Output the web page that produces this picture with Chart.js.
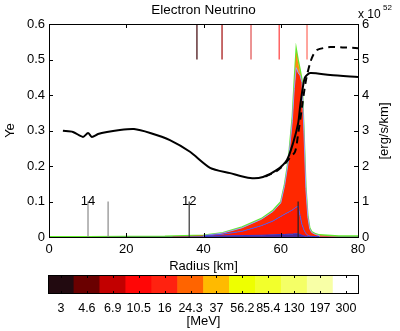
<!DOCTYPE html>
<html>
<head>
<meta charset="utf-8">
<script src="https://cdn.jsdelivr.net/npm/chart.js@4/dist/chart.umd.min.js"></script>
<style>
  body { margin: 0; background: #fff; }
  #wrap { position: relative; width: 400px; height: 331px; }
  canvas { position: absolute; left: 0; }
  #main { top: 0; }
  #bar { top: 272px; }
</style>
</head>
<body>
<div id="wrap">
  <canvas id="main" width="400" height="275"></canvas>
  <canvas id="bar" width="400" height="59"></canvas>
</div>
<script>
// Ye profile (solid)
const yeR = [3.6, 6.2, 8.8, 10.1, 11.1, 12.7, 15, 17.9, 22, 26.2, 31.3, 36.5, 41.7, 46.9, 52.1, 55.4, 59, 61.6, 63.2, 64.5, 65, 65.7, 66.3, 67.6, 72.8, 80];
const yeVal = [0.299, 0.296, 0.282, 0.293, 0.282, 0.29, 0.296, 0.301, 0.304, 0.293, 0.273, 0.24, 0.195, 0.18, 0.166, 0.169, 0.189, 0.217, 0.265, 0.32, 0.366, 0.42, 0.45, 0.462, 0.456, 0.451];

// Ye profile (dashed)
const ye2R = [56, 59, 61, 62.5, 63.7, 64.5, 65.5, 66.5, 67.6, 68.5, 69.4, 72.8, 76, 80];
const ye2Val = [0.17, 0.186, 0.205, 0.225, 0.24, 0.29, 0.366, 0.44, 0.49, 0.515, 0.527, 0.535, 0.534, 0.532];

// luminosity spectrum layers [1e52 erg/s/km], stacked
const specR    = [0, 10, 20, 30, 40, 45, 50, 55, 58, 60, 61, 62, 63, 63.5, 64, 64.5, 65, 65.5, 66, 66.5, 67, 67.5, 68, 69, 70, 75, 80];
const specLow  = [0, 0, 0.005, 0.01, 0.02, 0.03, 0.04, 0.05, 0.06, 0.07, 0.07, 0.08, 0.08, 0.09, 0.09, 0.09, 0.07, 0.05, 0.03, 0.02, 0.01, 0.01, 0.01, 0.01, 0.01, 0.01, 0.01];
const specMid  = [0, 0, 0, 0, 0.01, 0.05, 0.12, 0.27, 0.39, 0.51, 0.57, 0.62, 0.68, 0.71, 0.75, 0.78, 0.53, 0.3, 0.17, 0.08, 0.04, 0.02, 0.01, 0, 0, 0, 0];
const specHigh = [0, 0, 0, 0, 0.01, 0.03, 0.1, 0.18, 0.27, 0.38, 0.81, 1.45, 2.52, 3.38, 3.93, 3.76, 3.95, 4.0, 2.76, 1.27, 0.52, 0.2, 0.11, 0.06, 0.03, 0, 0];
const specTip  = [0, 0, 0, 0, 0, 0, 0, 0, 0, 0, 0, 0, 0.05, 0.15, 0.45, 0.28, 0.1, 0, 0, 0, 0, 0, 0, 0, 0, 0, 0];
const specEdge = [0.01, 0.01, 0.01, 0.01, 0.01, 0.01, 0.02, 0.02, 0.03, 0.03, 0.04, 0.05, 0.07, 0.07, 0.08, 0.08, 0.07, 0.07, 0.05, 0.05, 0.04, 0.03, 0.02, 0.02, 0.02, 0.02, 0.02];

// marker lines near the top (Ye 0.5 - 0.6)
const topR = [38.3, 44.8, 52.3, 59.6, 66.8];
const topClr = ['#4a1418', '#a81c1c', '#e25a5a', '#ff4a4a', '#ff7468'];

// marker lines at the bottom (height in 1e52)
const markR = [10.1, 15.3, 36.3, 64.5];
const markTop = [1, 1, 1, 1];
const markLbl = ['14', '', '12', ''];
const markClr = ['#8a8a8a', '#8a8a8a', '#333333', '#222222'];

// colour bar
const mev = ['3', '4.6', '6.9', '10.5', '16', '24.3', '37', '56.2', '85.4', '130', '197', '300'];
const cellH = [1, 1, 1, 1, 1, 1, 1, 1, 1, 1, 1, 1];
const mevClr = ['#220a10', '#6a0000', '#c20000', '#ff0606', '#ff2210', '#ff6400', '#ffba00', '#eeff00', '#f2ff2c', '#f4ff66', '#f8ffa6', '#ffffff'];

const FONT = "'Liberation Sans', Arial, sans-serif";
Chart.defaults.font.family = FONT;
Chart.defaults.color = '#000';

const pts = (xs, ys) => xs.map((x, i) => ({ x: x, y: ys[i] }));

const layerStyle = [
  { data: specLow,  bg: '#4a2a96', bd: '#3434c8' },
  { data: specMid,  bg: '#ff1a00', bd: '#4a58f0' },
  { data: specHigh, bg: '#ff2800', bd: '#9a9cff' },
  { data: specTip,  bg: '#ff8c10', bd: 'rgba(0,0,0,0)' },
  { data: specEdge, bg: '#a6ff5c', bd: '#62ea2c' }
];

// inner layer edges only where the spectrum is non-zero
const innerEdge = col => ({
  borderColor: c => (c.p0.parsed.x >= 40 && c.p1.parsed.x <= 70) ? col : 'rgba(0,0,0,0)'
});

const datasets = [];
layerStyle.forEach((l, i) => {
  datasets.push({
    data: pts(specR, l.data),
    yAxisID: 'y2',
    backgroundColor: l.bg,
    borderColor: l.bd,
    borderWidth: i === 4 ? 1.5 : 1,
    segment: i < 3 ? innerEdge(l.bd) : undefined,
    fill: i === 0 ? 'origin' : '-1',
    pointRadius: 0,
    tension: 0,
    order: 10
  });
});

markR.forEach((r, i) => {
  datasets.push({
    data: [{ x: r, y: 0 }, { x: r, y: markTop[i] }],
    yAxisID: 'y2',
    stack: 'm' + i,
    borderColor: markClr[i],
    borderWidth: 1.2,
    pointRadius: 0,
    fill: false,
    order: 2
  });
});

topR.forEach((r, i) => {
  datasets.push({
    data: [{ x: r, y: 0.5 }, { x: r, y: 0.6 }],
    yAxisID: 'y',
    borderColor: topClr[i],
    borderWidth: 1.3,
    pointRadius: 0,
    fill: false,
    order: 1
  });
});

datasets.push({
  data: pts(ye2R, ye2Val),
  yAxisID: 'y',
  borderColor: '#000',
  borderWidth: 2,
  borderDash: [7, 5],
  pointRadius: 0,
  fill: false,
  tension: 0.3,
  order: 0
});

datasets.push({
  data: pts(yeR, yeVal),
  yAxisID: 'y',
  borderColor: '#000',
  borderWidth: 2,
  pointRadius: 0,
  fill: false,
  tension: 0.25,
  order: 0
});

// box, inward ticks and extra texts
const frame = {
  id: 'frame',
  afterDraw(chart) {
    const { ctx, chartArea: a, scales } = chart;
    ctx.save();
    ctx.strokeStyle = '#000';
    ctx.lineWidth = 1;
    ctx.strokeRect(a.left + 0.5, a.top + 0.5, a.right - a.left, a.bottom - a.top);
    ctx.beginPath();
    scales.x.ticks.forEach(t => {
      const px = Math.round(scales.x.getPixelForValue(t.value)) + 0.5;
      ctx.moveTo(px, a.bottom); ctx.lineTo(px, a.bottom - 4);
      ctx.moveTo(px, a.top); ctx.lineTo(px, a.top + 4);
    });
    scales.y.ticks.forEach(t => {
      const py = Math.round(scales.y.getPixelForValue(t.value)) + 0.5;
      ctx.moveTo(a.left, py); ctx.lineTo(a.left + 4, py);
    });
    scales.y2.ticks.forEach(t => {
      const py = Math.round(scales.y2.getPixelForValue(t.value)) + 0.5;
      ctx.moveTo(a.right, py); ctx.lineTo(a.right - 4, py);
    });
    ctx.stroke();

    ctx.fillStyle = '#000';
    ctx.font = '13px ' + FONT;
    ctx.textAlign = 'center';
    ctx.textBaseline = 'middle';
    markR.forEach((r, i) => {
      if (markLbl[i]) {
        ctx.fillText(markLbl[i], scales.x.getPixelForValue(r), scales.y2.getPixelForValue(markTop[i]));
      }
    });

    ctx.textAlign = 'left';
    ctx.font = '12px ' + FONT;
    ctx.fillText('x 10', a.right, 15);
    ctx.font = '8px ' + FONT;
    ctx.fillText('52', a.right + 25, 8);

    ctx.translate(384, 131);
    ctx.rotate(-Math.PI / 2);
    ctx.textAlign = 'center';
    ctx.font = '13px ' + FONT;
    ctx.fillText('[erg/s/km]', 0, 0);
    ctx.restore();
  }
};

new Chart(document.getElementById('main'), {
  type: 'line',
  data: { datasets: datasets },
  options: {
    responsive: false,
    animation: false,
    layout: { padding: 0 },
    plugins: {
      legend: { display: false },
      tooltip: { enabled: false },
      title: {
        display: true,
        text: 'Electron Neutrino',
        fullSize: false,
        font: { size: 13.5, weight: 'normal' },
        padding: { top: 2, bottom: 5.8 }
      }
    },
    scales: {
      x: {
        type: 'linear',
        min: 0, max: 80,
        grid: { display: false, drawTicks: false },
        border: { display: false },
        ticks: { stepSize: 20, padding: 5, font: { size: 13 } },
        title: { display: true, text: 'Radius [km]', font: { size: 13 }, padding: { top: 0, bottom: 1 } },
        afterFit: s => { s.height = 38; }
      },
      y: {
        position: 'left',
        min: 0, max: 0.6,
        grid: { display: false, drawTicks: false },
        border: { display: false },
        ticks: { stepSize: 0.1, padding: 4, font: { size: 13 } },
        title: { display: true, text: 'Ye', font: { size: 13 }, padding: { top: 3, bottom: 0 } },
        afterFit: s => { s.width = 49; }
      },
      y2: {
        position: 'right',
        min: 0, max: 6,
        stacked: true,
        grid: { display: false, drawTicks: false },
        border: { display: false },
        ticks: { stepSize: 1, padding: 4, font: { size: 13 } },
        afterFit: s => { s.width = 42; }
      }
    }
  },
  plugins: [frame]
});

// colour bar frame and ticks
const cbFrame = {
  id: 'cbFrame',
  afterDraw(chart) {
    const { ctx, chartArea: a, scales } = chart;
    ctx.save();
    ctx.strokeStyle = '#000';
    ctx.lineWidth = 1;
    ctx.beginPath();
    mev.forEach((m, i) => {
      const px = Math.round(scales.x.getPixelForValue(i)) + 0.5;
      ctx.moveTo(px, a.top); ctx.lineTo(px, a.top + 3);
      ctx.moveTo(px, a.bottom); ctx.lineTo(px, a.bottom - 3);
    });
    ctx.stroke();
    ctx.strokeRect(a.left + 0.5, a.top + 0.5, a.right - a.left - 1, a.bottom - a.top - 1);
    ctx.restore();
  }
};

new Chart(document.getElementById('bar'), {
  type: 'bar',
  data: {
    labels: mev,
    datasets: [{
      data: cellH,
      backgroundColor: mevClr,
      borderWidth: 0,
      barPercentage: 1,
      categoryPercentage: 1
    }]
  },
  options: {
    responsive: false,
    animation: false,
    layout: { padding: { left: 48, right: 41, top: 3, bottom: 0 } },
    plugins: { legend: { display: false }, tooltip: { enabled: false } },
    scales: {
      x: {
        grid: { display: false, drawTicks: false },
        border: { display: false },
        ticks: { autoSkip: false, maxRotation: 0, padding: 7, font: { size: 12.5 } },
        title: { display: true, text: '[MeV]', font: { size: 13 }, padding: { top: 0, bottom: 2 } },
        afterFit: s => { s.height = 37; }
      },
      y: { display: false, min: 0, max: 1 }
    }
  },
  plugins: [cbFrame]
});
</script>
</body>
</html>
